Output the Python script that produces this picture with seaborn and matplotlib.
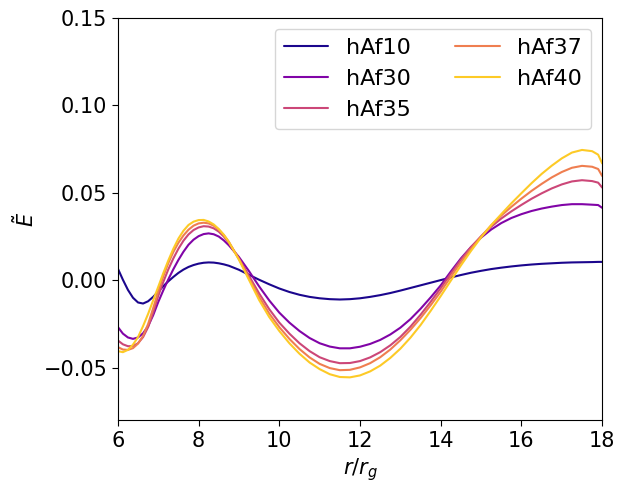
import numpy as np
import pandas as pd
import matplotlib
matplotlib.use("Agg")
import matplotlib.pyplot as plt
import seaborn as sns

# ---- data ----
labels = ["hAf10", "hAf30", "hAf35", "hAf37", "hAf40"]

x_grid = [6.0, 6.125, 6.25, 6.375, 6.5, 6.625, 6.75, 6.875, 7.0, 7.125,
          7.25, 7.375, 7.5, 7.625, 7.75, 7.875, 8.0, 8.125, 8.25, 8.375,
          8.5, 8.625, 8.75,
          9.0, 9.25, 9.5, 9.75, 10.0, 10.25, 10.5, 10.75, 11.0, 11.25,
          11.5, 11.75, 12.0, 12.25, 12.5, 12.75, 13.0, 13.25, 13.5, 13.75,
          14.0, 14.25, 14.5, 14.75, 15.0, 15.25, 15.5, 15.75, 16.0, 16.25,
          16.5, 16.75, 17.0, 17.25, 17.5, 17.75, 17.9, 18.0]

hAf10 = [0.0067, 0.0003, -0.0055, -0.0100, -0.0127, -0.0133, -0.0120,
         -0.0095, -0.0065, -0.0034, -0.0006, 0.0019, 0.0042, 0.0061,
         0.0076, 0.0087, 0.0095, 0.0100, 0.0102, 0.0101, 0.0097, 0.0091,
         0.0083,
         0.0060, 0.0031, 0.0003, -0.0023, -0.0047, -0.0067, -0.0083,
         -0.0095, -0.0103, -0.0108, -0.0110, -0.0108, -0.0103, -0.0095,
         -0.0085, -0.0073, -0.0059, -0.0044, -0.0029, -0.0014, 0.0001,
         0.0016, 0.0030, 0.0043, 0.0054, 0.0064, 0.0072, 0.0079, 0.0085,
         0.0090, 0.0094, 0.0097, 0.0100, 0.0102, 0.0103, 0.0104, 0.0105,
         0.0105]

hAf30 = [-0.0267, -0.0305, -0.0327, -0.0335, -0.0327, -0.0303, -0.0262,
         -0.0200, -0.0125, -0.0058, 0.0005, 0.0063, 0.0116, 0.0163,
         0.0203, 0.0232, 0.0252, 0.0264, 0.0268, 0.0263, 0.0250, 0.0228,
         0.0200,
         0.0133, 0.0052, -0.0035, -0.0115, -0.0185, -0.0242, -0.0290,
         -0.0330, -0.0360, -0.0379, -0.0389, -0.0389, -0.0380, -0.0364,
         -0.0341, -0.0310, -0.0271, -0.0222, -0.0163, -0.0098, -0.0029,
         0.0050, 0.0125, 0.0190, 0.0244, 0.0290, 0.0327, 0.0356, 0.0378,
         0.0396, 0.0410, 0.0421, 0.0430, 0.0435, 0.0435, 0.0432, 0.0430,
         0.0414]

hAf35 = [-0.0344, -0.0366, -0.0377, -0.0376, -0.0360, -0.0325, -0.0268,
         -0.0185, -0.0090, -0.0010, 0.0062, 0.0125, 0.0180, 0.0226,
         0.0262, 0.0287, 0.0302, 0.0309, 0.0307, 0.0297, 0.0278, 0.0250,
         0.0214,
         0.0125, 0.0025, -0.0075, -0.0165, -0.0242, -0.0305, -0.0360,
         -0.0405, -0.0440, -0.0462, -0.0474, -0.0473, -0.0462, -0.0441,
         -0.0411, -0.0372, -0.0324, -0.0265, -0.0197, -0.0123, -0.0045,
         0.0038, 0.0118, 0.0190, 0.0252, 0.0306, 0.0353, 0.0394, 0.0431,
         0.0466, 0.0497, 0.0525, 0.0548, 0.0565, 0.0572, 0.0567, 0.0558,
         0.0530]

hAf37 = [-0.0382, -0.0396, -0.0398, -0.0388, -0.0362, -0.0318, -0.0250,
         -0.0160, -0.0065, 0.0022, 0.0098, 0.0162, 0.0214, 0.0256,
         0.0289, 0.0312, 0.0325, 0.0329, 0.0325, 0.0312, 0.0290, 0.0259,
         0.0220,
         0.0120, 0.0012, -0.0095, -0.0190, -0.0268, -0.0335, -0.0393,
         -0.0441, -0.0478, -0.0502, -0.0514, -0.0512, -0.0498, -0.0474,
         -0.0440, -0.0396, -0.0343, -0.0283, -0.0216, -0.0143, -0.0065,
         0.0020, 0.0103, 0.0180, 0.0250, 0.0314, 0.0370, 0.0420, 0.0467,
         0.0511, 0.0551, 0.0588, 0.0619, 0.0643, 0.0654, 0.0649, 0.0636,
         0.0596]

hAf40 = [-0.0405, -0.0411, -0.0398, -0.0368, -0.0325, -0.0262, -0.0192,
         -0.0115, -0.0038, 0.0040, 0.0113, 0.0180, 0.0238, 0.0283,
         0.0316, 0.0335, 0.0344, 0.0345, 0.0336, 0.0319, 0.0293, 0.0260,
         0.0219,
         0.0118, 0.0002, -0.0113, -0.0210, -0.0290, -0.0360, -0.0420,
         -0.0470, -0.0508, -0.0537, -0.0553, -0.0555, -0.0544, -0.0521,
         -0.0488, -0.0444, -0.0391, -0.0328, -0.0256, -0.0175, -0.0090,
         -0.0002, 0.0085, 0.0168, 0.0245, 0.0315, 0.0378, 0.0440, 0.0498,
         0.0555, 0.0608, 0.0655, 0.0697, 0.0730, 0.0745, 0.0738, 0.0718,
         0.0668]

series = [hAf10, hAf30, hAf35, hAf37, hAf40]

xticks = [6, 8, 10, 12, 14, 16, 18]
yticks = [-0.05, 0.00, 0.05, 0.10, 0.15]

# ---- build long table ----
rows = []
for lab, vals in zip(labels, series):
    for xv, yv in zip(x_grid, vals):
        rows.append((lab, xv, yv))
df = pd.DataFrame(rows, columns=["model", "r", "E"])

sns.set_theme(style="ticks")
plt.rcParams["font.family"] = ["DejaVu Sans"]
for k in ["axes.edgecolor", "xtick.color", "ytick.color", "text.color",
          "axes.labelcolor"]:
    plt.rcParams[k] = "black"

cmap = matplotlib.colormaps["plasma"]
palette = [cmap(v) for v in [0.02, 0.26, 0.5, 0.68, 0.89]]

fig = plt.figure(figsize=(6.17, 4.83), dpi=100)
ax = fig.add_axes([0.191, 0.130, 0.785, 0.833])

sns.lineplot(data=df, x="r", y="E", hue="model", hue_order=labels,
             palette=palette, sort=False, estimator=None, linewidth=1.5,
             ax=ax)

ax.set_xlim(6, 18)
ax.set_ylim(-0.08, 0.15)
ax.set_xticks(xticks)
ax.set_yticks(yticks)
ax.set_yticklabels([f"{t:.2f}".replace("-", "\u2212") for t in yticks])
ax.tick_params(labelsize=15, length=4, width=0.8)
ax.set_xlabel(r"$r/r_g$", fontsize=15)
ax.set_ylabel(r"$\tilde{E}$", fontsize=15)
for s in ax.spines.values():
    s.set_linewidth(0.8)

ax.legend(title=None, ncol=2, loc="upper right", fontsize=16,
          frameon=True, handlelength=2.0, columnspacing=2.0)

fig.savefig("out.png", dpi=100)
